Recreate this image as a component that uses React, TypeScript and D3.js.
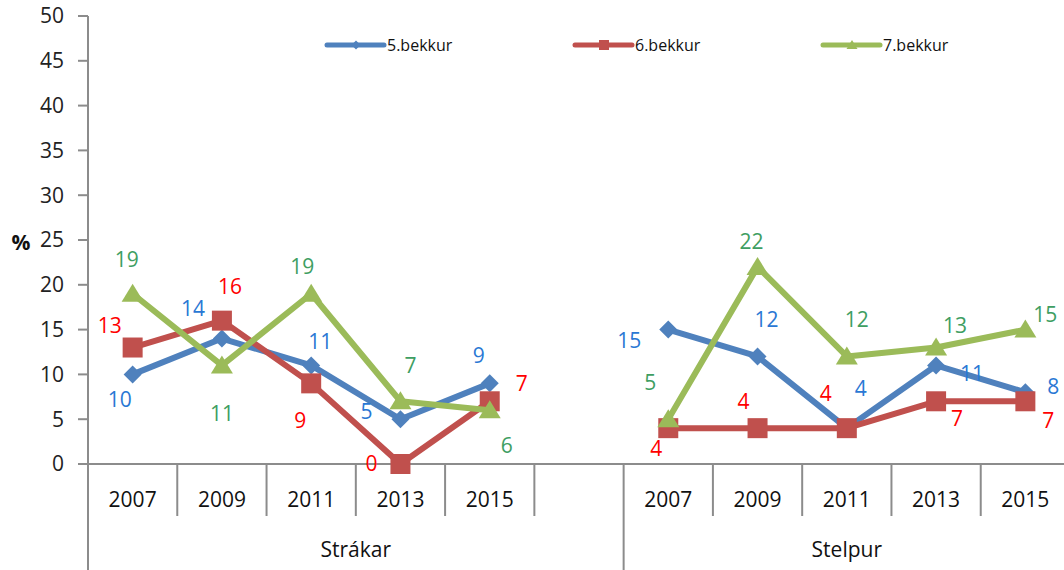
import * as d3 from 'd3'

// categories
const years = ['2007', '2009', '2011', '2013', '2015']
const groups = ['Strákar', 'Stelpur']
const seriesNames = ['5.bekkur', '6.bekkur', '7.bekkur']
const yTicks = [0, 5, 10, 15, 20, 25, 30, 35, 40, 45, 50]

// values (%), one array per series and group
const strakar5 = [10, 14, 11, 5, 9]
const strakar6 = [13, 16, 9, 0, 7]
const strakar7 = [19, 11, 19, 7, 6]
const stelpur5 = [15, 12, 4, 11, 8]
const stelpur6 = [4, 4, 4, 7, 7]
const stelpur7 = [5, 22, 12, 13, 15]

// label placement (dx, dy from the point), as Excel placed them
const labelOffsets: Record<string, [number, number][]> = {
  strakar5: [[-13, 25], [-29, -30], [9, -24], [-34, -8], [-11, -28]],
  strakar6: [[-23, -22], [8, -34], [-11, 37], [-29, 0], [32, -18]],
  strakar7: [[-6, -34], [0, 48], [-9, -27], [10, -36], [17, 35]],
  stelpur5: [[-39, 11], [9, -37], [14, -40], [36, 8], [28, -6]],
  stelpur6: [[-12, 20], [-14, -27], [-21, -35], [21, 17], [23, 19]],
  stelpur7: [[-18, -37], [-6, -25], [10, -37], [19, -22], [20, -15]],
}

const lineColors = ['#4F81BD', '#C0504D', '#9BBB59']
const labelColors = ['#2A78D4', '#FF0000', '#3E9E62']

const W = 1064
const H = 570
const margin = { left: 88, top: 16, bottom: 464 }
const font = "'Open Sans', 'Noto Sans', sans-serif"
const axisColor = '#8c8c8c'
const fs = 21

// slots: Strákar has 5 years + one empty slot, Stelpur 5 years
const slots = [
  ...years.map(y => `${groups[0]}-${y}`),
  `${groups[0]}-blank`,
  ...years.map(y => `${groups[1]}-${y}`),
]

const x = d3.scaleBand<string>().domain(slots).range([margin.left, 1070]).paddingInner(0)
const y = d3.scaleLinear().domain([0, 50]).range([margin.bottom, margin.top])
const cx = (key: string) => (x(key) as number) + x.bandwidth() / 2

const marker = (i: number, color: string, s = 1) => {
  if (i === 0) return <path d={`M0,${-9 * s}L${9 * s},0L0,${9 * s}L${-9 * s},0Z`} fill={color} />
  if (i === 1) return <rect x={-10 * s} y={-10 * s} width={20 * s} height={20 * s} fill={color} />
  return <path d={`M0,${-10 * s}L${11 * s},${8 * s}L${-11 * s},${8 * s}Z`} fill={color} />
}

export default function App() {
  const seriesByGroup = [
    [
      { key: 'strakar5', values: strakar5 },
      { key: 'strakar6', values: strakar6 },
      { key: 'strakar7', values: strakar7 },
    ],
    [
      { key: 'stelpur5', values: stelpur5 },
      { key: 'stelpur6', values: stelpur6 },
      { key: 'stelpur7', values: stelpur7 },
    ],
  ]

  const line = d3
    .line<[number, number]>()
    .x(d => d[0])
    .y(d => d[1])

  const groupStart = (g: number) => x(`${groups[g]}-${years[0]}`) as number
  const groupEnd = [x(`${groups[0]}-blank`)! + x.bandwidth(), 1070]

  return (
    <svg
      width={W}
      height={H}
      style={{ position: 'absolute', left: 0, top: 0, background: '#fff' }}
      fontFamily={font}
    >
      {/* y axis */}
      <line x1={margin.left} x2={margin.left} y1={margin.top} y2={H} stroke={axisColor} strokeWidth={2} />
      {yTicks.map(t => (
        <g key={t}>
          <line x1={78} x2={margin.left} y1={y(t)} y2={y(t)} stroke={axisColor} strokeWidth={2} />
          <text x={64} y={y(t)} dy="0.35em" textAnchor="end" fontSize={fs} fill="#222">
            {t}
          </text>
        </g>
      ))}
      <text x={21} y={243} dy="0.35em" textAnchor="middle" fontSize={fs} fontWeight="bold" fill="#111">
        %
      </text>

      {/* x axis */}
      <line x1={margin.left} x2={W} y1={margin.bottom} y2={margin.bottom} stroke={axisColor} strokeWidth={2} />
      {slots.map((s, i) =>
        i === 0 ? null : (
          <line
            key={s}
            x1={x(s)}
            x2={x(s)}
            y1={margin.bottom}
            y2={i === 6 ? H : 516}
            stroke={axisColor}
            strokeWidth={2}
          />
        )
      )}
      {groups.map(g =>
        years.map(yr => (
          <text key={g + yr} x={cx(`${g}-${yr}`)} y={500} dy="0.35em" textAnchor="middle" fontSize={fs} fill="#111">
            {yr}
          </text>
        ))
      )}
      {groups.map((g, gi) => (
        <text
          key={g}
          x={(groupStart(gi) + groupEnd[gi]) / 2}
          y={550}
          dy="0.35em"
          textAnchor="middle"
          fontSize={fs}
          fill="#111"
        >
          {g}
        </text>
      ))}

      {/* series */}
      {seriesByGroup.map((series, gi) =>
        series.map((s, si) => {
          const pts: [number, number][] = s.values.map((v, k) => [cx(`${groups[gi]}-${years[k]}`), y(v)])
          return (
            <g key={s.key}>
              <path d={line(pts) || ''} fill="none" stroke={lineColors[si]} strokeWidth={6} strokeLinejoin="round" />
              {pts.map((p, k) => (
                <g key={k} transform={`translate(${p[0]},${p[1]})`}>
                  {marker(si, lineColors[si])}
                </g>
              ))}
            </g>
          )
        })
      )}

      {/* data labels */}
      {seriesByGroup.map((series, gi) =>
        series.map((s, si) =>
          s.values.map((v, k) => {
            const [dx, dy] = labelOffsets[s.key][k]
            return (
              <text
                key={`${s.key}-${k}`}
                x={cx(`${groups[gi]}-${years[k]}`) + dx}
                y={y(v) + dy}
                dy="0.35em"
                textAnchor="middle"
                fontSize={fs}
                fill={labelColors[si]}
              >
                {v}
              </text>
            )
          })
        )
      )}

      {/* legend */}
      {seriesNames.map((name, i) => {
        const lx = [327, 575, 823][i]
        return (
          <g key={name} transform={`translate(${lx},45)`}>
            <line x1={0} x2={57} y1={0} y2={0} stroke={lineColors[i]} strokeWidth={5} strokeLinecap="round" />
            <g transform="translate(29,0)">{marker(i, lineColors[i], 0.5)}</g>
            <text x={60} y={0} dy="0.35em" fontSize={16} fill="#111">
              {name}
            </text>
          </g>
        )
      })}
    </svg>
  )
}
